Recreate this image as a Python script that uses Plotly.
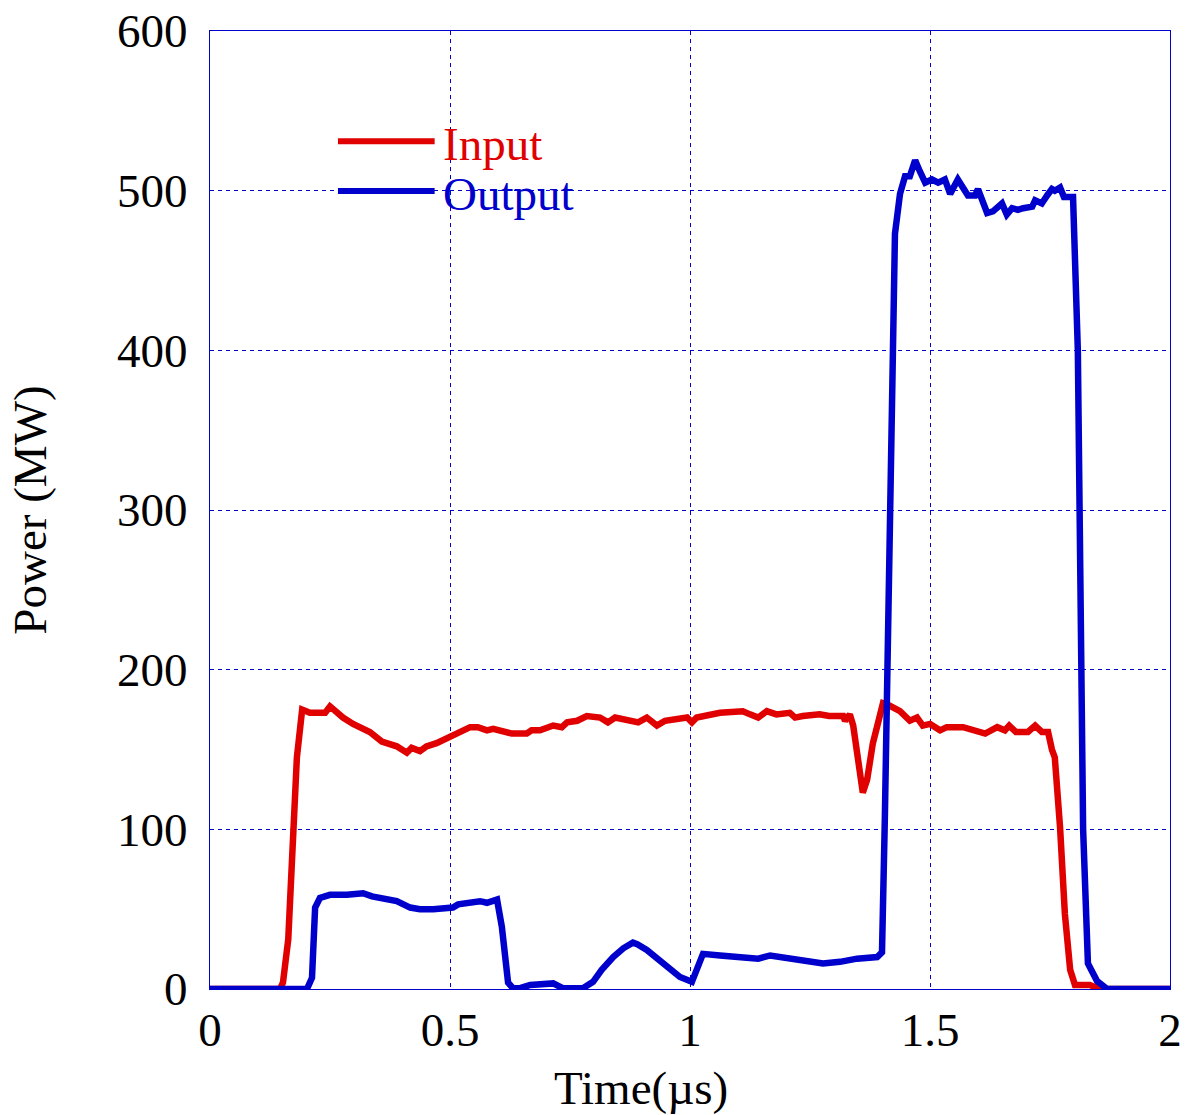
import plotly.graph_objects as go

# Input pulse (MW) versus time (µs)
input_time = [0, 0.146, 0.152, 0.163, 0.181, 0.192, 0.208, 0.24, 0.25, 0.277, 0.298,
              0.333, 0.358, 0.389, 0.41, 0.42, 0.4375, 0.451, 0.472, 0.5, 0.521, 0.542,
              0.558, 0.577, 0.59, 0.61, 0.629, 0.66, 0.67, 0.6875, 0.715, 0.733, 0.744,
              0.765, 0.785, 0.8125, 0.829, 0.844, 0.875, 0.892, 0.91, 0.931, 0.948,
              0.979, 0.994, 1.004, 1.014, 1.0625, 1.11, 1.125, 1.142, 1.16, 1.18, 1.208,
              1.219, 1.235, 1.27, 1.29, 1.319, 1.323, 1.333, 1.34, 1.35, 1.36, 1.369,
              1.381, 1.392, 1.402, 1.4125, 1.4375, 1.458, 1.473, 1.485, 1.5, 1.521,
              1.535, 1.569, 1.59, 1.615, 1.64, 1.656, 1.665, 1.679, 1.704, 1.719, 1.733,
              1.746, 1.754, 1.76, 1.771, 1.781, 1.792, 1.802, 1.833, 1.854, 2.0]
input_power = [0, 0, 4, 31, 145, 175, 173, 173, 177, 170, 166,
               161, 155, 152, 148, 151, 149, 152, 154, 158, 161, 164,
               164, 162, 163, 161, 160, 160, 162, 162, 165, 164, 167,
               168, 171, 170, 167, 170, 168, 167, 170, 165, 168,
               170, 170, 167, 170, 173, 174, 172, 170, 174, 172, 173,
               170, 171, 172, 171, 171, 168, 172, 165, 145, 123, 131,
               154, 167, 179, 178, 174, 168, 170, 165, 166, 162,
               164, 164, 162, 160, 164, 162, 165, 161, 161, 165, 161,
               161, 150, 145, 101, 47, 12, 2.5, 2.5, 0, 0]

# Output pulse (MW) versus time (µs)
output_time = [0, 0.202, 0.2125, 0.219, 0.229, 0.25, 0.285, 0.319, 0.3375, 0.358,
               0.389, 0.417, 0.4375, 0.465, 0.506, 0.517, 0.548, 0.5625, 0.577, 0.598,
               0.608, 0.621, 0.631, 0.646, 0.667, 0.702, 0.715, 0.735, 0.777, 0.798,
               0.816, 0.84, 0.861, 0.881, 0.89, 0.91, 0.9375, 0.958, 0.979, 1.004,
               1.027, 1.0625, 1.1, 1.142, 1.167, 1.223, 1.277, 1.3125, 1.348, 1.39,
               1.4, 1.406, 1.4125, 1.427, 1.4375, 1.448, 1.458, 1.469, 1.479, 1.49,
               1.504, 1.517, 1.531, 1.542, 1.558, 1.579, 1.594, 1.6, 1.619, 1.631,
               1.65, 1.66, 1.671, 1.683, 1.694, 1.713, 1.719, 1.733, 1.744, 1.754,
               1.76, 1.771, 1.779, 1.798, 1.808, 1.817, 1.819, 1.829, 1.848, 1.869, 2.0]
output_power = [0, 0, 7, 51, 57, 59, 59, 60, 58, 57,
                55, 51, 50, 50, 51, 53, 54, 55, 54, 56,
                39, 4, 0.5, 0.5, 2.5, 3.5, 3.5, 0.5, 0.5, 4.5,
                12, 20, 25.5, 29, 28, 24.5, 18, 12, 7.5, 4.5,
                22, 21, 20.5, 19, 21, 18, 16, 17, 19, 20,
                23, 108, 212, 473, 498, 509, 509, 519, 512, 505,
                507, 505, 507, 498, 507, 497, 497, 501, 486, 487,
                492, 485, 489, 488, 489, 490, 494, 492, 497, 501,
                500, 502, 496, 496, 400, 194, 100, 16, 5, 0, 0]

x_ticks = [0, 0.5, 1, 1.5, 2]
x_tick_labels = ["0", "0.5", "1", "1.5", "2"]
y_ticks = [0, 100, 200, 300, 400, 500, 600]

RED = "#e00000"
BLUE = "#0000cc"
FONT = "Liberation Serif, Times New Roman, serif"
FS = 47

fig = go.Figure()
fig.add_trace(go.Scatter(x=input_time, y=input_power, mode="lines", name="Input",
                         line=dict(color=RED, width=6.5), showlegend=False))
fig.add_trace(go.Scatter(x=output_time, y=output_power, mode="lines", name="Output",
                         line=dict(color=BLUE, width=6.5), showlegend=False))

# Hand-drawn legend: long line samples with coloured labels
legend_items = [("Input", RED, 0.885), ("Output", BLUE, 0.833)]
for label, color, ypos in legend_items:
    fig.add_shape(type="line", xref="paper", yref="paper",
                  x0=0.1333, x1=0.234, y0=ypos, y1=ypos,
                  line=dict(color=color, width=6))
    fig.add_annotation(xref="paper", yref="paper", x=0.241, y=ypos - 0.003,
                       xanchor="left", yanchor="middle", text=label, showarrow=False,
                       font=dict(family=FONT, size=FS, color=color))

# x-axis title, set slightly left of the axis centre
fig.add_annotation(xref="paper", yref="paper", x=0.449, y=-0.103,
                   xanchor="center", yanchor="middle", text="Time(µs)", showarrow=False,
                   font=dict(family=FONT, size=FS, color="black"))

axis_common = dict(
    showline=True, linecolor=BLUE, linewidth=1, mirror=True,
    showgrid=True, gridcolor=BLUE, gridwidth=1, griddash="4px,4px",
    zeroline=False, ticks="", automargin=False,
    tickfont=dict(family=FONT, size=FS, color="black"),
)

fig.update_xaxes(range=[0, 2], tickvals=x_ticks, ticktext=x_tick_labels,
                 ticklabelstandoff=0, **axis_common)
fig.update_yaxes(range=[0, 600], tickvals=y_ticks,
                 title=dict(text="Power (MW)", font=dict(family=FONT, size=FS, color="black"),
                            standoff=55),
                 ticklabelstandoff=12, **axis_common)

fig.update_layout(
    width=1188, height=1115,
    margin=dict(l=210, r=18, t=31, b=126),
    paper_bgcolor="white", plot_bgcolor="white",
    font=dict(family=FONT, size=FS, color="black"),
)

fig.write_html("out.html")
